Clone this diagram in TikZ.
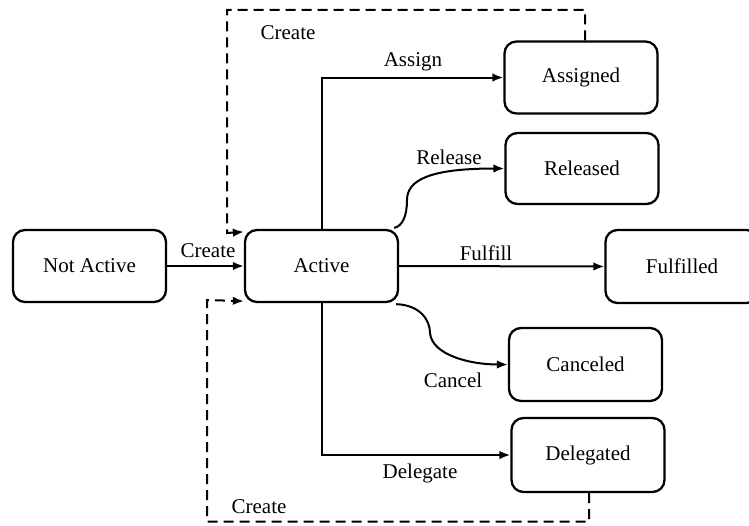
\documentclass[tikz,border=0pt]{standalone}
\usepackage{fontspec}
\setmainfont{Liberation Serif}
\usetikzlibrary{arrows.meta}
\begin{document}
\begin{tikzpicture}[x=1pt,y=-1pt,
  state/.style={draw,line width=2.3pt,rounded corners=12pt,minimum width=153pt,minimum height=72pt,inner sep=0pt,font=\fontsize{21}{25}\selectfont},
  lbl/.style={inner sep=0pt,font=\fontsize{21}{25}\selectfont},
  conn/.style={line width=2pt,-{Latex[length=11pt,width=8.5pt]}},
  dconn/.style={line width=2pt,dash pattern=on 10pt off 6pt,-{Latex[length=11pt,width=8.5pt]}}]
\useasboundingbox (0,0) rectangle (749,525);
\node[state] (na) at (89.5,266) {Not Active};
\node[state] (act) at (321.5,266) {Active};
\node[state] (asg) at (581,77.5) {Assigned};
\node[state,minimum height=71pt] (rel) at (582,168.5) {Released};
\node[state,minimum height=73pt] (ful) at (682,266.5) {Fulfilled};
\node[state,minimum height=73pt] (can) at (585.5,364.5) {Canceled};
\node[state,minimum height=74pt] (del) at (588,455) {Delegated};
% labels
\node[lbl] (lcreate) at (208,251) {Create};
\node[lbl] (lassign) at (413,62) {Assign};
\node[lbl] (lrelease) at (449,157) {Release};
\node[lbl] (lfulfill) at (486,253) {Fulfill};
\node[lbl] (lcancel) at (453,380) {Cancel};
\node[lbl] (ldelegate) at (420,473) {Delegate};
\node[lbl] (lctop) at (288,33) {Create};
\node[lbl] (lcbot) at (259,507) {Create};
% connectors
\draw[conn] (na.east) -- (act.west);
\draw[conn] (act.north) -- (act.north |- asg.west) -- (asg.west);
\draw[conn] (act.east) -- (ful.west);
\draw[conn] (act.south) -- (act.south |- del.west) -- (del.west);
\draw[conn] ([xshift=-5pt,yshift=1pt]act.north east) .. controls (403,226) and (407,215) .. (407,200) .. controls (407,180) and (430,168.5) .. (rel.west);
\draw[conn] ([xshift=-3pt,yshift=-1pt]act.south east) .. controls (420,305) and (430,320) .. (430,333) .. controls (432,355) and (470,364.5) .. (can.west);
\draw[dconn] ([xshift=4pt]asg.north) -- ++(0,-30.5) -| (227,233) -- ([yshift=-3pt]act.north west);
\draw[dconn] ([xshift=1pt]del.south) -- ++(0,28.5) -| (207,300) -- ([yshift=2pt]act.south west);
\end{tikzpicture}
\end{document}
